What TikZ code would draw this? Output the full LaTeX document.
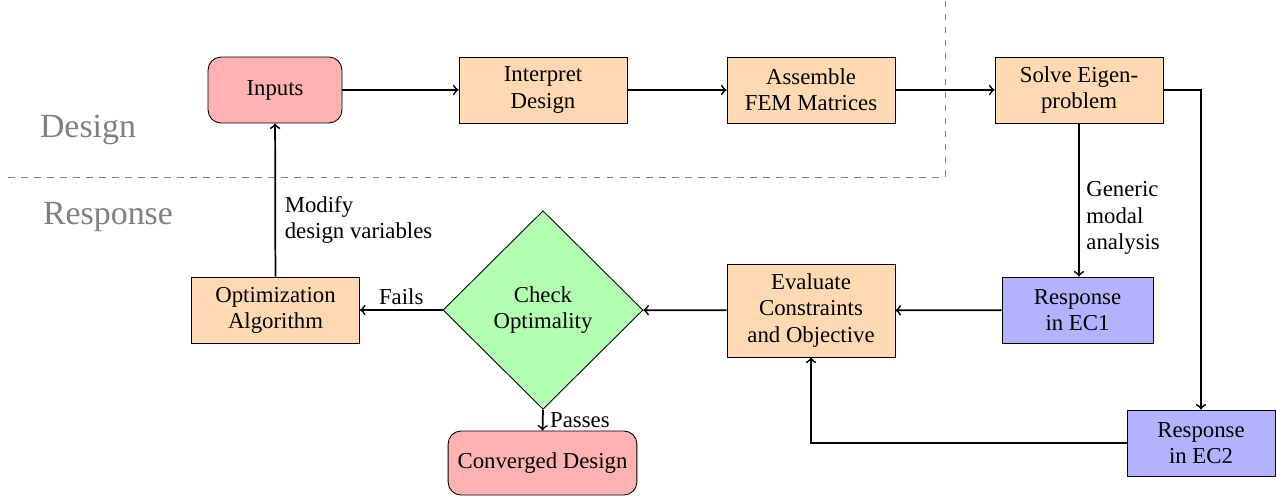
\documentclass[tikz,border=0pt]{standalone}
\usepackage{fontspec}
\setmainfont{Liberation Serif}
\usetikzlibrary{shapes.geometric,arrows}
\begin{document}
\begin{tikzpicture}[x=0.4608pt,y=-0.4608pt,
  base/.style={draw,align=center,inner sep=2pt,font=\fontsize{10.5}{12}\selectfont},
  procbox/.style={base,rectangle,fill=orange!30,minimum width=77.4pt,minimum height=30.4pt},
  termbox/.style={base,rectangle,rounded corners=6pt,fill=red!30,minimum height=30.4pt},
  respbox/.style={base,rectangle,fill=blue!30,minimum width=69.6pt,minimum height=30.4pt},
  decbox/.style={base,diamond,aspect=1,fill=green!30,minimum width=92.2pt,minimum height=91.5pt},
  conn/.style={->,thick},
  lbl/.style={align=left,inner sep=1pt,font=\fontsize{10.5}{12.2}\selectfont},
  region/.style={gray,font=\fontsize{15.6}{18}\selectfont}]
\useasboundingbox (0,0) rectangle (1276,502);
\coordinate (dl) at (8,177);
\coordinate (dc) at (945,177);
\coordinate (dt) at (945,0);
\draw[gray,dashed] (dl) -- (dc) -- (dt);
\node[region] (design) at (88,130) {Design};
\node[region] (response) at (108,217) {Response};

\node[termbox,minimum width=61.7pt] (inputs) at (275,90) {Inputs};
\node[procbox] (interp) at (543,90) {Interpret\\Design};
\node[procbox] (assem) at (811,90) {Assemble\\FEM Matrices};
\node[procbox] (solve) at (1079,90) {Solve Eigen-\\problem};
\node[procbox] (opt) at (275.5,310) {Optimization\\Algorithm};
\node[decbox] (check) at (543,310) {Check\\Optimality};
\node[procbox,minimum height=42.9pt] (eval) at (811,310.5) {Evaluate\\Constraints\\and Objective};
\node[respbox] (ec1) at (1077.5,310) {Response\\in EC1};
\node[respbox,minimum width=68.2pt] (ec2) at (1201,443) {Response\\in EC2};
\node[termbox,minimum width=87pt,minimum height=29.5pt] (conv) at (542.5,463) {Converged Design};

\coordinate (c1) at (1201,90);
\coordinate (c2) at (811,443);

\draw[conn] (inputs) -- (interp);
\draw[conn] (interp) -- (assem);
\draw[conn] (assem) -- (solve);
\draw[conn] (solve.east) -- (c1) -- (ec2.north);
\draw[conn] (solve.south) -- node[lbl,right=2pt,pos=0.62] (gma) {Generic\\modal\\analysis} (solve.south |- ec1.north);
\draw[conn] (ec1) -- (eval);
\draw[conn] (ec2.west) -- (c2) -- (eval.south);
\draw[conn] (eval) -- (check);
\draw[conn] (check) -- node[lbl,above=1pt] (fails) {Fails} (opt);
\draw[conn] (check.south) -- node[lbl,right=2pt] (passes) {Passes} (conv.north);
\draw[conn] (opt) -- node[lbl,right=3pt,pos=0.37] (mod) {Modify\\design variables} (inputs);
\end{tikzpicture}
\end{document}
